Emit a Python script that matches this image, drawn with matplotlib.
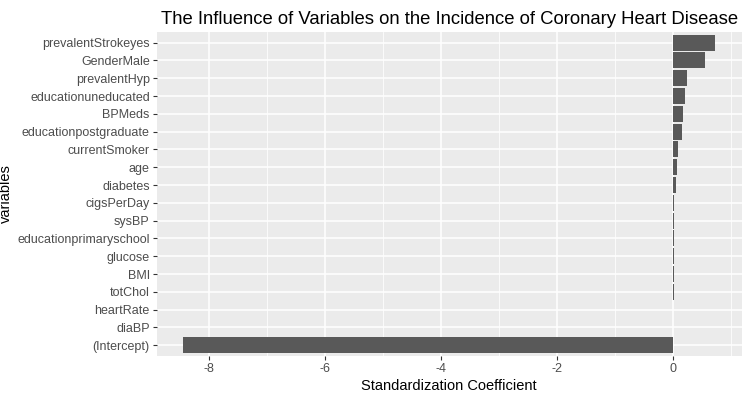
import matplotlib.pyplot as plt

plt.rcParams['font.family'] = ['Liberation Sans', 'DejaVu Sans']

# top to bottom as in the picture
variables = ["prevalentStrokeyes", "GenderMale", "prevalentHyp", "educationuneducated",
             "BPMeds", "educationpostgraduate", "currentSmoker", "age", "diabetes",
             "cigsPerDay", "sysBP", "educationprimaryschool", "glucose", "BMI",
             "totChol", "heartRate", "diaBP", "(Intercept)"]
coef = [0.72, 0.55, 0.24, 0.21, 0.17, 0.155, 0.086, 0.069, 0.05,
        0.02, 0.019, 0.018, 0.018, 0.017, 0.017, 0.001, 0.0, -8.45]

xticks = [-8, -6, -4, -2, 0]
xminor = [-7, -5, -3, -1, 1]

fig = plt.figure(figsize=(7.5, 3.99), dpi=100)
ax = fig.add_axes([0.209, 0.108, 0.780, 0.812])
ax.set_facecolor('#EBEBEB')

n = len(variables)
ypos = [n - i for i in range(n)]
ax.barh(ypos, coef, height=0.9, color='#595959', zorder=3)

ax.set_xlim(-8.9, 1.18)
ax.set_ylim(0.4, n + 0.6)
ax.set_xticks(xticks)
ax.set_xticklabels([str(t) for t in xticks])
ax.set_xticks(xminor, minor=True)
ax.set_yticks(ypos)
ax.set_yticklabels(variables)

ax.grid(which='major', color='white', linewidth=1.1, zorder=0)
ax.grid(which='minor', axis='x', color='white', linewidth=0.55, zorder=0)
ax.set_axisbelow(True)
for s in ax.spines.values():
    s.set_visible(False)

ax.tick_params(which='major', length=3, width=0.8, color='#333333',
               labelsize=9, labelcolor='#4D4D4D', pad=2)
ax.tick_params(which='minor', length=0)

ax.set_xlabel('Standardization Coefficient', fontsize=10.5, labelpad=3)
ax.set_ylabel('variables', fontsize=10.5, labelpad=3)
ax.set_title('The Influence of Variables on the Incidence of Coronary Heart Disease',
             fontsize=13.3, pad=6)

fig.savefig('out.png', dpi=100)
